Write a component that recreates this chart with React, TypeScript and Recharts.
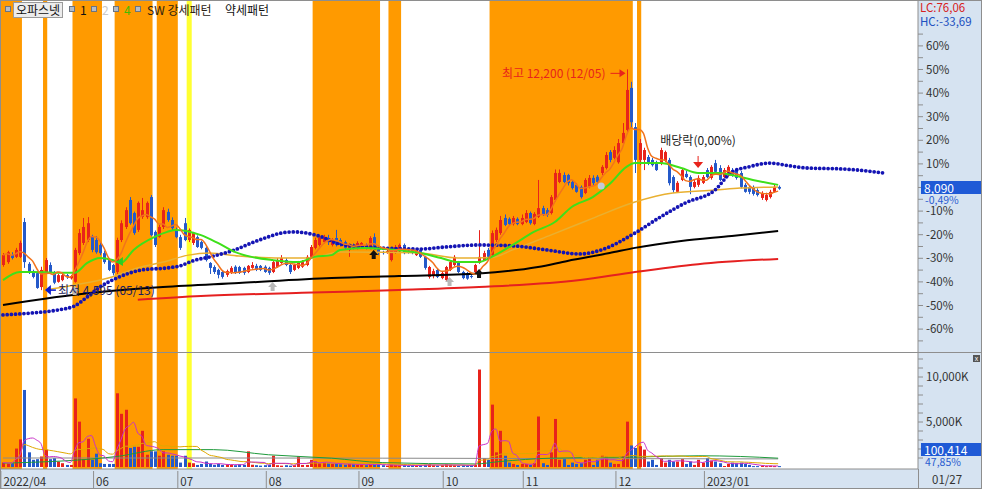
import React from 'react';
import {
  ComposedChart,
  Bar,
  Line,
  XAxis,
  YAxis,
  ReferenceArea,
  ReferenceDot,
} from 'recharts';

const FONT = '"Noto Sans CJK KR", "Noto Sans", sans-serif';
const RED = '#e8231b';
const BLUE = '#2459c9';
const PANEL = '#d6e3f1';
const FRAME = '#8e8e8e';
const ORANGE_BAND = '#ff9a00';

const PREV_CLOSE = 8130;

// 일봉 2022/04/29 ~ 2023/01/27 : [시가, 고가, 저가, 종가]
const ohlc: [number, number, number, number][] = [
  [5460, 5870, 5400, 5800], [5560, 5950, 5500, 5900], [5800, 5900, 5650, 5700], [5740, 6050, 5700, 5980],
  [5740, 6300, 5700, 6220], [6940, 7080, 5360, 5560], [5500, 5560, 5150, 5200], [5250, 5300, 5000, 5050],
  [5180, 5250, 4640, 4670], [4700, 5400, 4595, 5290], [5190, 5700, 5150, 5630], [5460, 5550, 5180, 5220],
  [5180, 5250, 4800, 4850], [4880, 5150, 4850, 5110], [4940, 5180, 4900, 5110], [5110, 5150, 4980, 5040],
  [5000, 5120, 4960, 5080], [4880, 6050, 4850, 5980], [5870, 6700, 5800, 6560], [6220, 7080, 6150, 6770],
  [6320, 7110, 6250, 6900], [6420, 6500, 5900, 5980], [6320, 6450, 5850, 5900], [6150, 6250, 5800, 5870],
  [5870, 5950, 5500, 5560], [5630, 5700, 5250, 5290], [5460, 5500, 5100, 5180], [5220, 6400, 5150, 6320],
  [6320, 7000, 6250, 6900], [6770, 7450, 6700, 7350], [7700, 7800, 6850, 6900], [7250, 7300, 6500, 6560],
  [6670, 7650, 6600, 7600], [7120, 7770, 7050, 7350], [7110, 7650, 7050, 7600], [7800, 7870, 6450, 6490],
  [6600, 6650, 6080, 6150], [6430, 6850, 6400, 6770], [6770, 7450, 6700, 7350], [7290, 7400, 6950, 7010],
  [7010, 7100, 6650, 6730], [6670, 6750, 6380, 6420], [6420, 6500, 5980, 6050], [6900, 7080, 6280, 6320],
  [6320, 6720, 6250, 6670], [6220, 6600, 6150, 6560], [6420, 6480, 6050, 6080], [6250, 6300, 6000, 6050],
  [6050, 6100, 5580, 5630], [5530, 5560, 5150, 5360], [5390, 5450, 5150, 5220], [5290, 5330, 5000, 5120],
  [5220, 5260, 4990, 5050], [5120, 5300, 5050, 5250], [5190, 5420, 5150, 5360], [5400, 5450, 5150, 5190],
  [5390, 5430, 5150, 5190], [5360, 5400, 5120, 5190], [5220, 5460, 5180, 5430], [5360, 5560, 5330, 5460],
  [5430, 5500, 5250, 5290], [5430, 5460, 5250, 5290], [5400, 5450, 5190, 5220], [5360, 5400, 5120, 5190],
  [5220, 5600, 5180, 5560], [5390, 5700, 5360, 5630], [5530, 5800, 5500, 5700], [5630, 5700, 5420, 5460],
  [5460, 5500, 5150, 5220], [5290, 5500, 5250, 5460], [5360, 5600, 5320, 5530], [5400, 5630, 5360, 5560],
  [5460, 5800, 5420, 5740], [5740, 6150, 5700, 6080], [6050, 6400, 6000, 6320], [6150, 6450, 6100, 6390],
  [6250, 6500, 6200, 6400], [6390, 6500, 6150, 6250], [6150, 6380, 6100, 6320], [6390, 6670, 6100, 6150],
  [6320, 6380, 6100, 6150], [6250, 6300, 6000, 6050], [5980, 6200, 5740, 6150], [6150, 6200, 6000, 6050],
  [6050, 6280, 6000, 6220], [6080, 6250, 6050, 6220], [6150, 6200, 6000, 6050], [6080, 6450, 6050, 6390],
  [6420, 6550, 6050, 6080], [6080, 6120, 5800, 5870], [5910, 5950, 5820, 5870], [5870, 6000, 5850, 5940],
  [5630, 6020, 5580, 5980], [5900, 6150, 5850, 6080], [5940, 6200, 5900, 6150], [6150, 6200, 5830, 5870],
  [5940, 6000, 5850, 5900], [5980, 6050, 5830, 5870], [5800, 6020, 5770, 5980], [5980, 6020, 5700, 5740],
  [5740, 5780, 5300, 5360], [5050, 5430, 4990, 5390], [5100, 5330, 5000, 5250], [5290, 5330, 5010, 5050],
  [5010, 5220, 4970, 5180], [4940, 5430, 4900, 5390], [5290, 5600, 5250, 5560], [5460, 5800, 5420, 5740],
  [5560, 5600, 5180, 5220], [5220, 5260, 4970, 5010], [5180, 5220, 4950, 4990], [5080, 5120, 5000, 5050],
  [5220, 5500, 5180, 5460], [5530, 6660, 5500, 5740], [5630, 5950, 5600, 5870], [5980, 6050, 5700, 5740],
  [5800, 6650, 5750, 6560], [6320, 6750, 6250, 6670], [6560, 7150, 6500, 7010], [7080, 7200, 6800, 6840],
  [7050, 7100, 6820, 6870], [6870, 7150, 6820, 7080], [7050, 7100, 6830, 6870], [6870, 7200, 6830, 7080],
  [6940, 7350, 6900, 7250], [7250, 7300, 6850, 6900], [6870, 7280, 6830, 7220], [7120, 8390, 7080, 7420],
  [7420, 7500, 7150, 7190], [7350, 7420, 7120, 7190], [7250, 7870, 7200, 7800], [7700, 8750, 7650, 8630],
  [8320, 8750, 8280, 8630], [8560, 8650, 8280, 8320], [8560, 8600, 8200, 8280], [8320, 8380, 8060, 8110],
  [8220, 8280, 7950, 7980], [8150, 8200, 7750, 7800], [7940, 8450, 7900, 8390], [8150, 8560, 8100, 8460],
  [8460, 8550, 8200, 8280], [8500, 8560, 8280, 8320], [8630, 8900, 8560, 8840], [8800, 9350, 8750, 9250],
  [9350, 9420, 9000, 9080], [9150, 9550, 9100, 9420], [9000, 9800, 8950, 9660], [9660, 10350, 9600, 10010],
  [10110, 12200, 10000, 11490], [11560, 11770, 10200, 10380], [10210, 10350, 8630, 9080], [9080, 9800, 8900, 9660],
  [9080, 9500, 8730, 9420], [9180, 9250, 8900, 8970], [9080, 9150, 8850, 8900], [8970, 9050, 8700, 8730],
  [8970, 9500, 8900, 9420], [9050, 9400, 9000, 9350], [9080, 9150, 8200, 8280], [8490, 8550, 7950, 8040],
  [7980, 8350, 7950, 8290], [8390, 8800, 8350, 8730], [8600, 8700, 8450, 8490], [8490, 8550, 7900, 8150],
  [8150, 8400, 8100, 8320], [8220, 8550, 8150, 8460], [8290, 8560, 8250, 8490], [8730, 8800, 8450, 8490],
  [8460, 8900, 8400, 8840], [8970, 9080, 8600, 8670], [8800, 8900, 8350, 8390], [8490, 8800, 8450, 8730],
  [8560, 8900, 8500, 8840], [8730, 8800, 8500, 8560], [8730, 8800, 8400, 8460], [8630, 8700, 8100, 8150],
  [8220, 8280, 7950, 7980], [8150, 8200, 7900, 7980], [8150, 8200, 7850, 7910], [8040, 8100, 7820, 7870],
  [7770, 8000, 7700, 7940], [7700, 7950, 7650, 7870], [7800, 8050, 7750, 7980], [7980, 8250, 7950, 8150],
  [8150, 8200, 8050, 8090],
];

// 거래량 (천주)
const volumes = [
  490, 420, 420, 2050, 3070, 8560, 1630, 800, 870, 1170,
  1930, 870, 980, 610, 420, 230, 230, 7620, 5040, 870,
  3140, 800, 1480, 420, 340, 340, 340, 8190, 5910, 6360,
  2120, 2240, 2240, 4020, 1360, 1740, 1740, 1250, 1740, 1360,
  1250, 1250, 490, 1250, 490, 420, 230, 340, 610, 340,
  230, 340, 230, 300, 250, 200, 300, 250, 1740, 250,
  200, 150, 200, 250, 1250, 200, 150, 200, 150, 200,
  1170, 230, 230, 800, 610, 420, 500, 400, 350, 400,
  300, 250, 350, 300, 250, 300, 200, 350, 300, 250,
  200, 150, 250, 200, 150, 200, 150, 200, 150, 200,
  250, 300, 200, 150, 200, 300, 250, 200, 150, 200,
  150, 200, 250, 10830, 980, 800, 6930, 1630, 4020, 1250,
  490, 340, 230, 340, 340, 230, 420, 5610, 420, 230,
  1630, 5340, 800, 870, 230, 490, 340, 420, 800, 1100,
  230, 800, 1250, 1170, 490, 340, 340, 1170, 5040, 2390,
  2120, 2310, 1930, 610, 800, 230, 980, 490, 800, 610,
  610, 870, 340, 610, 230, 800, 490, 980, 720, 610,
  420, 110, 340, 490, 420, 490, 340, 230, 100, 100,
  150, 100, 150, 100, 100,
];

// 이동평균 / 선행선 (화면에서 읽은 값) [일자 index, 가격]
const ma20Pts = [
  [0, 4940], [4, 5220], [7, 5220], [15, 5190], [17, 5190], [20, 5530], [23, 5700], [26, 5630], [28, 5530],
  [31, 5980], [36, 6430], [39, 6600], [41, 6670], [47, 6490], [51, 6220], [55, 5910], [59, 5740], [64, 5630],
  [70, 5560], [74, 5740], [78, 5800], [80, 5980], [86, 6050], [93, 5980], [99, 5870], [104, 5700], [108, 5560],
  [113, 5560], [116, 5740], [121, 6150], [126, 6600], [131, 6940], [135, 7460], [140, 7800], [144, 8250],
  [148, 8840], [150, 8970], [156, 8970], [161, 8800], [165, 8630], [170, 8630], [173, 8560], [178, 8390], [184, 8220],
];
const ma60Pts = [
  [10, 4600], [17, 4770], [25, 5010], [32, 5360], [38, 5560], [44, 5800], [49, 5870], [56, 5770], [66, 5700],
  [73, 5700], [80, 5910], [89, 5900], [99, 5870], [108, 5700], [116, 5720], [121, 5980], [130, 6490], [139, 7010],
  [150, 7630], [159, 7940], [169, 8040], [175, 8110], [184, 8150],
];
const ma120Pts = [
  [0, 4080], [21, 4500], [38, 4700], [56, 4840], [78, 5010], [94, 5080], [113, 5170], [127, 5390], [134, 5600],
  [144, 5870], [150, 6050], [161, 6290], [173, 6460], [184, 6630],
];
const ma240Pts = [
  [32, 4260], [47, 4390], [71, 4500], [94, 4600], [113, 4700], [137, 4940], [150, 5220], [165, 5490], [184, 5670],
];
const spanPts = [
  [0, 3740], [7, 3810], [13, 3910], [17, 4050], [20, 4360], [23, 4700], [27, 5010], [33, 5290], [39, 5360],
  [42, 5430], [45, 5600], [50, 5770], [55, 5980], [59, 6220], [63, 6430], [66, 6560], [69, 6600], [75, 6460],
  [80, 6180], [86, 6080], [99, 6010], [105, 6080], [113, 6150], [121, 6120], [129, 5980], [137, 5840], [142, 5980],
  [150, 6560], [156, 7110], [162, 7600], [169, 8040], [173, 8660], [177, 8840], [182, 8970], [187, 8870],
  [191, 8800], [199, 8770], [203, 8730], [209, 8630],
];
const volMa60Pts = [
  [0, 420], [27, 1170], [38, 1930], [50, 1930], [63, 1360], [78, 980], [90, 490], [112, 340], [118, 610],
  [130, 980], [150, 1100], [165, 1250], [175, 1170], [184, 980],
];
const volMa120Pts = [[0, 1000], [60, 1000], [120, 950], [184, 900]];

// 강세패턴 구간 (index)
const strongBands = [
  [-0.5, 4.5], [9.5, 10.5], [16.5, 23.5], [26.5, 35.5], [36.5, 41.5], [73.5, 89.5], [91.5, 94.5],
  [115.5, 149.5], [150.5, 151.5],
];
const weakBand = [43.6, 44.8];

// 신호 표시 [index, 가격]
const buyArrows = [[88, 5805], [113, 5150]];
const grayArrows = [[17, 4564], [64, 4702], [106, 4874]];

const monthTicks = [-0.5, 21.5, 41.5, 62.5, 84.5, 104.5, 123.5, 145.5, 166.5];
const monthLabels = ['2022/04', '06', '07', '08', '09', '10', '11', '12', '2023/01'];

const pctTicks = [-65, -60, -55, -50, -45, -40, -35, -30, -25, -20, -15, -10, -5, 0, 5, 10, 15, 20, 25, 30, 35, 40, 45, 50, 55, 60, 65];
const volTicks = [1000, 2000, 3000, 4000, 5000, 6000, 7000, 8000, 9000, 10000, 11000, 12000];

const X_DOMAIN: [number, number] = [-0.71, 217.2];
const PRICE_DOMAIN: [number, number] = [2463, 14589];
const VOL_DOMAIN: [number, number] = [-222, 12778];

const avgBack = (vals: number[], i: number, n: number) => {
  const s = vals.slice(Math.max(0, i - n + 1), i + 1);
  return s.reduce((a, b) => a + b, 0) / s.length;
};

const closes = ohlc.map((d) => d[3]);

const rows: any[] = Array.from({ length: 210 }, (_, i) => {
  const r: any = { i };
  const d = ohlc[i];
  if (d) {
    const [o, h, l, c] = d;
    r.o = o; r.h = h; r.l = l; r.c = c;
    r.range = [l, h];
    r.ma5 = avgBack(closes, i, 5);
    r.vol = volumes[i];
    r.up = c >= o;
    r.vma5 = avgBack(volumes, i, 5);
    r.vma20 = avgBack(volumes, i, 20);
  }
  return r;
});
const put = (pts: number[][], key: string) => pts.forEach(([i, v]) => { rows[i][key] = v; });
put(ma20Pts, 'ma20');
put(ma60Pts, 'ma60');
put(ma120Pts, 'ma120');
put(ma240Pts, 'ma240');
put(spanPts, 'span');
put(volMa60Pts, 'vma60');
put(volMa120Pts, 'vma120');

const renderCandle = (p: any) => {
  const { x, y, width, height, payload } = p;
  if (!payload || payload.o == null || x == null) return <g />;
  const { o, h, l, c } = payload;
  const top0 = Math.min(y, y + height);
  const hh = Math.abs(height);
  const k = h > l ? hh / (h - l) : 0;
  const py = (v: number) => top0 + (h - v) * k;
  const color = c >= o ? RED : BLUE;
  const mid = Math.round(x + width / 2) + 0.5;
  const bt = py(Math.max(o, c));
  const bh = Math.max(1, py(Math.min(o, c)) - bt);
  return (
    <g>
      <line x1={mid} x2={mid} y1={top0} y2={top0 + hh} stroke={color} strokeWidth={1} />
      <rect x={mid - 1.5} y={bt} width={3} height={bh} fill={color} />
    </g>
  );
};

const renderVol = (p: any) => {
  const { x, y, width, height, payload } = p;
  if (!payload || payload.vol == null || x == null) return <g />;
  const mid = Math.round(x + width / 2) + 0.5;
  const top0 = Math.min(y, y + height);
  return <rect x={mid - 1.5} y={top0} width={3} height={Math.max(1, Math.abs(height))} fill={payload.up ? RED : BLUE} />;
};

const MonthTick = (p: any) => {
  const { x, y, payload } = p;
  const idx = monthTicks.indexOf(payload.value);
  return (
    <g>
      <line x1={x} x2={x} y1={y} y2={y + 20} stroke={FRAME} />
      <text x={x + 2.5} y={y + 15} fontSize={11.5} fontFamily={FONT} fill="#333">
        {monthLabels[idx]}
      </text>
    </g>
  );
};

const HighMark = ({ cx, cy }: any) => (
  <g>
    <text x={cx - 21} y={cy + 9} textAnchor="end" fontSize={12} fontFamily={FONT} fill={RED}>
      최고 12,200 (12/05)
    </text>
    <line x1={cx - 16} y1={cy + 4} x2={cx - 6} y2={cy + 4} stroke={RED} />
    <polygon points={`${cx - 1},${cy + 4} ${cx - 7},${cy} ${cx - 7},${cy + 8}`} fill={RED} />
  </g>
);

const LowMark = ({ cx, cy }: any) => (
  <g>
    <polygon points={`${cx + 4},${cy} ${cx + 10},${cy - 5} ${cx + 10},${cy + 5}`} fill="#0a1ad0" />
    <line x1={cx + 9} y1={cy} x2={cx + 15} y2={cy} stroke="#0a1ad0" strokeWidth={1.5} />
    <text x={cx + 17} y={cy + 5} fontSize={12} fontFamily={FONT} fill="#1c1c5c">
      최저 4,595 (05/13)
    </text>
  </g>
);

const DividendMark = ({ cx, cy }: any) => (
  <g>
    <text x={cx} y={cy - 23} textAnchor="middle" fontSize={12} fontFamily={FONT} fill="#222">
      배당락(0,00%)
    </text>
    <line x1={cx} y1={cy - 12} x2={cx} y2={cy - 5} stroke={RED} />
    <polygon points={`${cx - 5},${cy - 6} ${cx + 5},${cy - 6} ${cx},${cy}`} fill={RED} />
  </g>
);

const upArrow = (color: string) => ({ cx, cy }: any) => (
  <polygon
    points={`${cx},${cy - 5} ${cx + 4.5},${cy} ${cx + 2},${cy} ${cx + 2},${cy + 4} ${cx - 2},${cy + 4} ${cx - 2},${cy} ${cx - 4.5},${cy}`}
    fill={color}
  />
);

const GreenArrow = ({ cx, cy }: any) => (
  <polygon points={`${cx - 5},${cy} ${cx + 2},${cy - 5} ${cx + 2},${cy + 4}`} fill="#2ecc22" />
);

const GrayDot = ({ cx, cy }: any) => <circle cx={cx} cy={cy} r={3.5} fill="#c4cad6" />;

const bands = [
  ...strongBands.map(([a, b], k) => (
    <ReferenceArea key={`s${k}`} x1={a} x2={b} fill={ORANGE_BAND} fillOpacity={1} stroke="none" />
  )),
  <ReferenceArea key="w" x1={weakBand[0]} x2={weakBand[1]} fill="#ffff30" fillOpacity={1} stroke="none" />,
];

const abs = (l: number, t: number, extra: React.CSSProperties = {}): React.CSSProperties => ({
  position: 'absolute',
  left: l,
  top: t,
  whiteSpace: 'nowrap',
  ...extra,
});

export default function App() {
  const priceTicks = pctTicks.map((p) => PREV_CLOSE * (1 + p / 100));
  return (
    <div
      style={{
        position: 'fixed',
        left: 0,
        top: 0,
        width: 982,
        height: 489,
        background: PANEL,
        overflow: 'hidden',
        fontFamily: FONT,
        fontSize: 12,
      }}
    >
      <div style={abs(0, 0, { width: 918, height: 469, background: '#fff' })} />

      <div style={abs(0, 0)}>
        <ComposedChart width={982} height={352} data={rows} margin={{ top: 0, right: 0, bottom: 0, left: 0 }}>
          <XAxis type="number" dataKey="i" domain={X_DOMAIN} allowDataOverflow hide />
          <YAxis
            orientation="right"
            width={64}
            domain={PRICE_DOMAIN}
            allowDataOverflow
            ticks={priceTicks}
            interval={0}
            tickFormatter={(v: number) => {
              const p = Math.round((v / PREV_CLOSE - 1) * 100);
              return p % 10 === 0 && p !== 0 ? `${p}%` : '';
            }}
            tick={{ fontSize: 11.5, fill: '#333', fontFamily: FONT }}
            tickSize={5}
            tickMargin={3}
            tickLine={{ stroke: FRAME }}
            axisLine={{ stroke: FRAME }}
          />
          {bands}
          <Line dataKey="ma240" type="monotone" stroke="#e52020" strokeWidth={2} dot={false} connectNulls isAnimationActive={false} />
          <Line dataKey="ma120" type="monotone" stroke="#000" strokeWidth={2} dot={false} connectNulls isAnimationActive={false} />
          <Line dataKey="ma60" type="monotone" stroke="#e9b030" strokeWidth={1.5} dot={false} connectNulls isAnimationActive={false} />
          <Line
            dataKey="span"
            type="monotone"
            stroke="#1414b4"
            strokeWidth={3.8}
            strokeDasharray="0 4.2"
            strokeLinecap="round"
            dot={false}
            connectNulls
            isAnimationActive={false}
          />
          <Line dataKey="ma20" type="monotone" stroke="#3ee01a" strokeWidth={2} dot={false} connectNulls isAnimationActive={false} />
          <Bar dataKey="range" barSize={3} shape={renderCandle} isAnimationActive={false} />
          <Line dataKey="ma5" type="monotone" stroke="#f2731c" strokeWidth={1.5} dot={false} isAnimationActive={false} />
          {buyArrows.map(([i, v], k) => (
            <ReferenceDot key={`b${k}`} x={i} y={v} shape={upArrow('#111')} />
          ))}
          {grayArrows.map(([i, v], k) => (
            <ReferenceDot key={`g${k}`} x={i} y={v} shape={upArrow('#b8b8b8')} />
          ))}
          <ReferenceDot x={142} y={8181} shape={GrayDot} />
          <ReferenceDot x={28} y={5563} shape={GreenArrow} />
          <ReferenceDot x={148} y={12200} shape={HighMark} />
          <ReferenceDot x={9} y={4595} shape={LowMark} />
          <ReferenceDot x={165} y={8802} shape={DividendMark} />
        </ComposedChart>
      </div>

      <div style={abs(0, 352)}>
        <ComposedChart width={982} height={137} data={rows} margin={{ top: 0, right: 0, bottom: 0, left: 0 }}>
          <XAxis
            type="number"
            dataKey="i"
            domain={X_DOMAIN}
            allowDataOverflow
            ticks={monthTicks}
            interval={0}
            tick={<MonthTick />}
            tickLine={false}
            tickSize={0}
            height={20}
            axisLine={{ stroke: FRAME }}
          />
          <YAxis
            orientation="right"
            width={64}
            domain={VOL_DOMAIN}
            allowDataOverflow
            ticks={volTicks}
            interval={0}
            tickFormatter={(v: number) => (v % 5000 === 0 ? `${v.toLocaleString('en-US')}K` : '')}
            tick={{ fontSize: 11.5, fill: '#333', fontFamily: FONT }}
            tickSize={5}
            tickMargin={3}
            tickLine={{ stroke: FRAME }}
            axisLine={{ stroke: FRAME }}
          />
          {bands}
          <Bar dataKey="vol" barSize={3} shape={renderVol} isAnimationActive={false} />
          <Line dataKey="vma120" type="monotone" stroke="#8a8a8a" strokeWidth={1} dot={false} connectNulls isAnimationActive={false} />
          <Line dataKey="vma60" type="monotone" stroke="#1e9a3c" strokeWidth={1} dot={false} connectNulls isAnimationActive={false} />
          <Line dataKey="vma20" type="monotone" stroke="#e0a800" strokeWidth={1} dot={false} isAnimationActive={false} />
          <Line dataKey="vma5" type="monotone" stroke="#c830c8" strokeWidth={1} dot={false} isAnimationActive={false} />
        </ComposedChart>
      </div>

      {/* frame */}
      <div style={abs(0, 0, { width: 982, height: 1, background: FRAME })} />
      <div style={abs(0, 0, { width: 1, height: 489, background: FRAME })} />
      <div style={abs(0, 352, { width: 982, height: 1, background: FRAME })} />
      <div style={abs(981, 0, { width: 1, height: 489, background: FRAME })} />
      <div style={abs(0, 488, { width: 982, height: 1, background: FRAME })} />
      <div style={abs(918, 469, { width: 1, height: 20, background: FRAME })} />

      {/* legend */}
      {[5, 69, 91, 113, 135].map((l) => (
        <div key={l} style={abs(l, 6, { width: 4, height: 4, background: '#b4bcc8', border: '1px solid #6c7480' })} />
      ))}
      <div
        style={abs(13, 2, {
          height: 14,
          padding: '0 2px',
          lineHeight: '14px',
          background: '#ececec',
          border: '1px solid #9a9a9a',
          color: '#111',
        })}
      >
        오파스넷
      </div>
      <div style={abs(80, 2, { lineHeight: '15px', color: '#111' })}>1</div>
      <div style={abs(102, 2, { lineHeight: '15px', color: '#c8c8c8' })}>2</div>
      <div style={abs(124, 2, { lineHeight: '15px', color: '#44bb00' })}>4</div>
      <div style={abs(147, 2, { lineHeight: '15px', color: '#2a2010' })}>SW 강세패턴</div>
      <div style={abs(225, 2, { lineHeight: '15px', color: '#111' })}>약세패턴</div>

      {/* right panel labels */}
      <div style={abs(920, 1, { lineHeight: '12px', fontSize: 11.5, color: '#d82020' })}>LC:76,06</div>
      <div style={abs(920, 15, { lineHeight: '12px', fontSize: 11.5, color: '#2050c0' })}>HC:-33,69</div>
      <div
        style={abs(921, 181, {
          width: 57,
          height: 13,
          lineHeight: '13px',
          paddingLeft: 3,
          background: '#1f5ad6',
          color: '#fff',
        })}
      >
        8,090
      </div>
      <div style={abs(925, 195, { lineHeight: '10px', fontSize: 10.5, color: '#2a5cd0' })}>-0,49%</div>
      <div
        style={abs(973, 355, {
          width: 7,
          height: 7,
          background: '#555',
          color: '#fff',
          fontSize: 7,
          lineHeight: '7px',
          textAlign: 'center',
        })}
      >
        x
      </div>
      <div
        style={abs(921, 443, {
          width: 57,
          height: 13,
          lineHeight: '13px',
          paddingLeft: 3,
          background: '#1f5ad6',
          color: '#fff',
        })}
      >
        100,414
      </div>
      <div style={abs(925, 457, { lineHeight: '10px', fontSize: 10.5, color: '#2a5cd0' })}>47,85%</div>
      <div style={abs(932, 472, { lineHeight: '14px', color: '#333', fontSize: 11.5 })}>01/27</div>
    </div>
  );
}
